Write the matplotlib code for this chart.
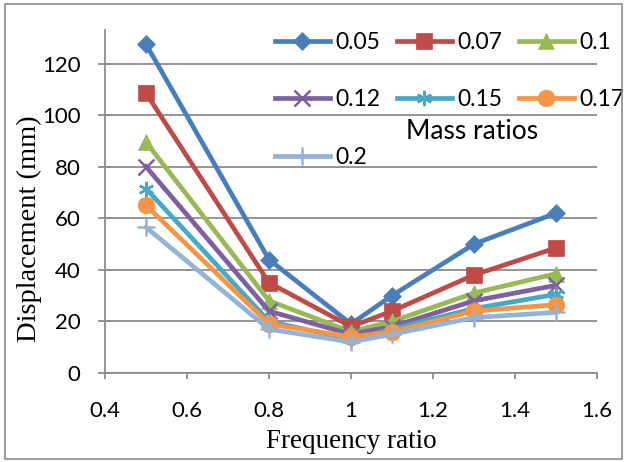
import matplotlib
matplotlib.use("Agg")
from matplotlib import pyplot as plt
from matplotlib.patches import Rectangle

# data
freq_ratio = [0.5, 0.8, 1.0, 1.1, 1.3, 1.5]
mass_ratios = ["0.05", "0.07", "0.1", "0.12", "0.15", "0.17", "0.2"]
disp_005 = [127.5, 44, 19, 30, 50, 62]
disp_007 = [108.5, 35, 18, 24, 38, 48.5]
disp_010 = [89.5, 28, 16, 20, 31, 38.5]
disp_012 = [80, 24, 15, 18, 28, 34]
disp_015 = [71.5, 20, 13, 17, 25, 30.5]
disp_017 = [65, 19, 14, 16, 24, 26.5]
disp_020 = [56.5, 17, 12, 15, 21.5, 23.5]

series = [disp_005, disp_007, disp_010, disp_012, disp_015, disp_017, disp_020]
colors = ["#4A7EBB", "#BE4B48", "#98B954", "#7D60A0", "#46AAC5", "#F69545", "#95B3D7"]
markers = ["D", "s", "^", "x", (6, 2, 0), "o", "+"]
msizes = [9, 12, 11, 11, 11, 12, 13]

tick_font = "Lato"
label_font = "Liberation Serif"
grid_col = "#8C8C8C"
fs = 16

fig = plt.figure(figsize=(6.24, 4.62), dpi=100)
ax = fig.add_axes([105 / 624, 1 - 373 / 462, 492 / 624, 343 / 462])

handles = []
for vals, name, c, m, ms in zip(series, mass_ratios, colors, markers, msizes):
    h, = ax.plot(freq_ratio, vals, color=c, lw=3.4, marker=m, markersize=ms,
                 markeredgewidth=1.8 if m in ("x", "+") or isinstance(m, tuple) else 0.5,
                 markeredgecolor=c, markerfacecolor=c, label=name, zorder=3)
    handles.append(h)

ax.set_xlim(0.4, 1.6)
ax.set_ylim(0, 133)
ax.set_xticks([0.4, 0.6, 0.8, 1.0, 1.2, 1.4, 1.6])
ax.set_xticklabels(["0.4", "0.6", "0.8", "1", "1.2", "1.4", "1.6"])
ax.set_yticks([0, 20, 40, 60, 80, 100, 120])
ax.yaxis.grid(True, color=grid_col, lw=1.3)
ax.set_axisbelow(True)

for s in ["top", "right"]:
    ax.spines[s].set_visible(False)
for s in ["left", "bottom"]:
    ax.spines[s].set_color(grid_col)
    ax.spines[s].set_linewidth(1.3)
ax.tick_params(axis="both", colors=grid_col, width=1.3, labelcolor="black", labelsize=fs)
ax.tick_params(axis="x", direction="out", length=4.5, pad=16)
ax.tick_params(axis="y", direction="inout", length=9.5, pad=13)
for lbl in ax.get_xticklabels() + ax.get_yticklabels():
    lbl.set_family(tick_font)

ax.set_xlabel("Frequency ratio", family=label_font, fontsize=19.5)
ax.set_ylabel("Displacement (mm)", family=label_font, fontsize=20.5)
ax.xaxis.set_label_coords(0.5, -0.162)
ax.yaxis.set_label_coords(-0.128, 0.42)

# legend: Excel orders entries row-wise, matplotlib fills columns
order = [0, 3, 6, 1, 4, 2, 5]
leg = ax.legend([handles[i] for i in order], [mass_ratios[i] for i in order],
                ncol=3, loc="upper left", bbox_to_anchor=(0.3455, 0.995),
                frameon=False, prop={"family": tick_font, "size": 16.5},
                handlelength=2.4, handletextpad=0.25, columnspacing=0.7,
                labelspacing=1.6, borderaxespad=0, borderpad=0)
ax.text(0.746, 0.703, "Mass ratios", transform=ax.transAxes, ha="center", va="center",
        family=tick_font, fontsize=19)

# outer chart border
fig.patches.append(Rectangle((5 / 624, 3 / 462), 617 / 624, 455 / 462,
                             transform=fig.transFigure, fill=False,
                             edgecolor="#8C8C8C", lw=1.2))

fig.savefig("out.png", dpi=100)
